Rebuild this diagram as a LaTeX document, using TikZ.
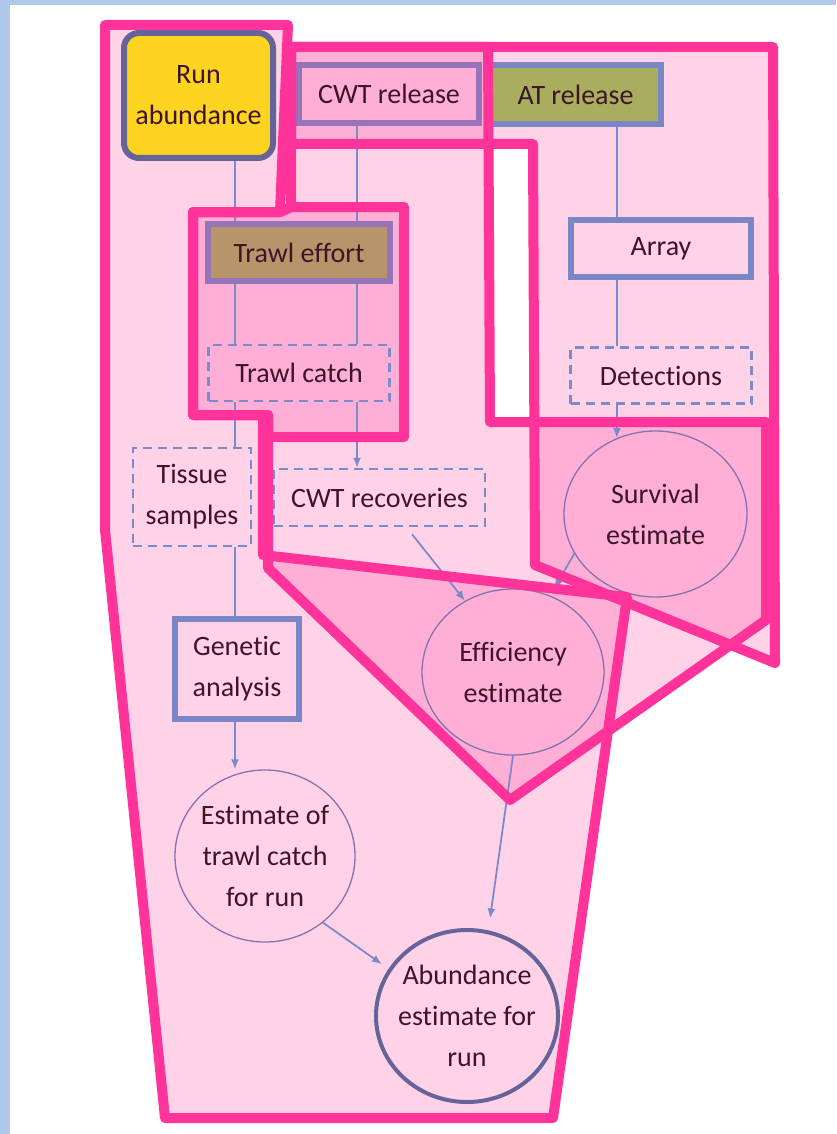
\documentclass[tikz,border=0pt]{standalone}
\usepackage{fontspec}
\setmainfont[Ligatures=NoCommon]{Carlito}
\usetikzlibrary{shapes,arrows.meta}
\usetikzlibrary{positioning}

\definecolor{zonepink}{RGB}{255,51,153}
\definecolor{framefill}{RGB}{174,201,236}
\definecolor{wire}{RGB}{123,138,201}
\definecolor{rimblue}{RGB}{122,134,198}
\definecolor{rimviolet}{RGB}{149,116,186}
\definecolor{rimslate}{RGB}{100,100,152}
\definecolor{ovalline}{RGB}{132,115,174}
\definecolor{runyellow}{RGB}{255,212,32}
\definecolor{atolive}{RGB}{168,174,94}
\definecolor{efforttan}{RGB}{184,148,106}
\definecolor{inkred}{RGB}{62,20,40}

\tikzset{every node/.style={font=\fontsize{28}{41}\selectfont, text=inkred, align=center, inner sep=0pt},
  solidbox/.style={rectangle, draw=rimblue, line width=6pt},
  dashbox/.style={rectangle, draw=wire, line width=2.5pt, dash pattern=on 9pt off 6pt},
  oval/.style={ellipse, draw=ovalline, line width=1.3pt, inner sep=-8pt},
  link/.style={draw=wire, line width=1.8pt},
  arr/.style={link, -{Latex[length=10pt,width=8pt]}},
  zone/.style={fill=zonepink, fill opacity=.22},
  rim/.style={draw=zonepink, line width=10pt, line join=round}
}

% outlines of the shaded groups
\newcommand{\runzone}{(105,25) -- (288,25) -- (280,212) -- (193,212) -- (193,415) -- (263,415) -- (263,555) -- (627,597) -- (553,1118) -- (165,1118) -- (105,530) -- cycle}
\newcommand{\cwtzone}{(291,47) -- (488,47) -- (490,422) -- (766,422) -- (766,620) -- (510,800) -- (268,568) -- (268,415) -- (193,415) -- (193,212) -- (280,212) -- (291,207) -- cycle}
\newcommand{\atzone}{(291,47) -- (773,47) -- (775,663) -- (535,565) -- (533,144) -- (291,144) -- cycle}
\newcommand{\trawlzone}{(193,212) -- (280,212) -- (291,207) -- (404,207) -- (404,437) -- (268,437) -- (268,415) -- (193,415) -- cycle}

\begin{document}
\begin{tikzpicture}[x=1pt, y=-1pt, on grid]
  \useasboundingbox (0,0) rectangle (836,1134);
  \fill[white] (0,0) rectangle (836,1134);
  \fill[framefill] (0,0) rectangle (836,5);
  \fill[framefill] (0,0) rectangle (10,1134);

  % shaded groups
  \path[zone] \runzone;
  \path[zone] \cwtzone;
  \path[zone] \atzone;
  \path[zone] \trawlzone;

  % inputs and data
  \node[rectangle, rounded corners=15pt, draw=rimslate, fill=runyellow, line width=6pt,
        minimum width=149pt, minimum height=125pt] (run) at (198.5,95.5) {Run\\abundance};
  \node[solidbox, draw=rimviolet, minimum width=180pt, minimum height=58pt] (cwtrel) at (389,94) {CWT release};
  \node[solidbox, fill=atolive, minimum width=171pt, minimum height=59pt] (atrel) at (575.5,94.5) {AT release};
  \node[solidbox, draw=rimviolet, fill=efforttan, minimum width=182pt, minimum height=57pt] (effort) at (299,252.5) {Trawl effort};
  \node[solidbox, minimum width=180pt, minimum height=57pt] (array) at (661,248.5) {Array};
  \node[dashbox, minimum width=181pt, minimum height=56pt] (tcatch) [below=120.5pt of effort] {Trawl catch};
  \node[dashbox, minimum width=181pt, minimum height=56pt] (detect) [below=127pt of array] {Detections};
  \node[dashbox, minimum width=118pt, minimum height=98pt] (tissue) at (192,497) {Tissue\\samples};
  \node[dashbox, minimum width=211pt, minimum height=57pt] (cwtrec) at (379.5,497.5) {CWT recoveries};
  \node[solidbox, minimum width=124pt, minimum height=100pt] (genetic) at (237,669) {Genetic\\analysis};

  % estimates
  \node[oval, minimum width=183pt, minimum height=166pt] (surv) at (655.5,514) {Survival\\estimate};
  \node[oval, minimum width=182pt, minimum height=166pt] (eff) at (513,672) {Efficiency\\estimate};
  \node[oval, minimum width=180pt, minimum height=172pt] (estcatch) at (265,856) {Estimate of\\trawl catch\\for run};
  \node[oval, draw=rimslate, line width=4pt, minimum width=182pt, minimum height=172pt] (abund) at (467,1016) {Abundance\\estimate for\\run};

  % columns for the vertical links
  \coordinate (colA) at (235,0);
  \coordinate (colB) at (357,0);
  \coordinate (colC) at (617,0);

  \draw[link] (run.south -| colA) -- (effort.north -| colA);
  \draw[link] (cwtrel.south -| colB) -- (effort.north -| colB);
  \draw[link] (effort.south -| colA) -- (tcatch.north -| colA);
  \draw[link] (effort.south -| colB) -- (tcatch.north -| colB);
  \draw[link] (tcatch.south -| colA) -- (tissue.north -| colA);
  \draw[arr] (tcatch.south -| colB) -- (cwtrec.north -| colB);
  \draw[link] (atrel.south -| colC) -- (array.north -| colC);
  \draw[link] (array.south -| colC) -- (detect.north -| colC);
  \draw[arr] (detect.south -| colC) -- (surv.117);
  \draw[link] (tissue.south -| colA) -- (genetic.north -| colA);
  \draw[arr] (genetic.south -| colA) -- (estcatch.north -| colA);
  \draw[arr, shorten <=9pt] ([xshift=27pt]cwtrec.south) -- (eff.124);
  \draw[arr, shorten >=8pt] (surv.206) -- (eff.64);
  \draw[arr, shorten >=12pt] (eff.south) -- (abund.76);
  \draw[arr, shorten >=8pt] (estcatch.-49) -- (abund.149);

  % group outlines
  \draw[rim] \runzone;
  \draw[rim] \cwtzone;
  \draw[rim] \atzone;
  \draw[rim] \trawlzone;
\end{tikzpicture}
\end{document}
